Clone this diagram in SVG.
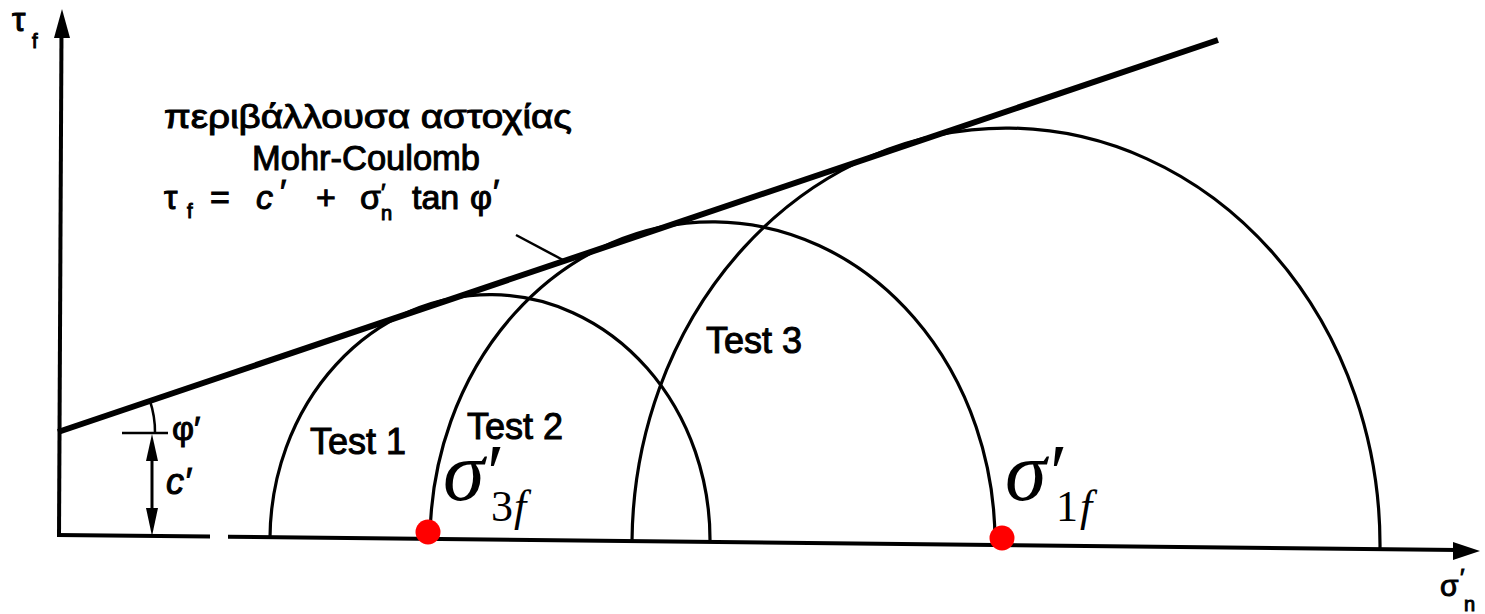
<svg xmlns="http://www.w3.org/2000/svg" width="1485" height="614" viewBox="0 0 1485 614">
<style>
.ax{stroke:#000;stroke-width:4;fill:none;stroke-linecap:butt}
.env{stroke:#000;stroke-width:6;fill:none}
.arc{stroke:#000;stroke-width:3.2;fill:none}
.thin{stroke:#000;stroke-width:2.5;fill:none}
.sans{font-family:"Liberation Sans",Arial,sans-serif;fill:#000;stroke:#000;stroke-width:1}
.serif{font-family:"Liberation Serif","Times New Roman",serif;fill:#000}
.dot{fill:#ff0000}
</style>
<rect width="1485" height="614" fill="#fff"/>
<g id="axes">
<line class="ax" x1="59" y1="536" x2="61.5" y2="30"/>
<polygon points="62,9 54,38 70,38" fill="#000"/>
<line class="ax" x1="57" y1="535" x2="210" y2="536.6"/>
<line class="ax" x1="228" y1="536.8" x2="1458" y2="550"/>
<polygon points="1480,551 1453,542 1453,560" fill="#000"/>
</g>
<g id="envelope">
<line class="env" x1="58" y1="432" x2="1218" y2="40"/>
</g>
<g id="test1"><path class="arc" d="M 270 537.5 A 219.9 245 0 0 1 710 542"/></g>
<g id="test2"><path class="arc" d="M 430 539 A 282.4 320 0 0 1 995 545"/></g>
<g id="test3"><path class="arc" d="M 632 541 A 373.9 417 0 0 1 1380 549"/></g>
<g id="connectors">
<line class="thin" x1="516" y1="235" x2="563" y2="260"/>
<line class="ax" x1="152" y1="455" x2="152" y2="512" style="stroke-width:3"/>
<polygon points="152,434 146,461 158,461" fill="#000"/>
<polygon points="152,536 146,508 158,508" fill="#000"/>
<line class="thin" x1="122" y1="433" x2="168" y2="433"/>
<path class="thin" d="M 150 401 A 97 97 0 0 1 155 433"/>
</g>
<g id="points">
<circle class="dot" cx="428" cy="532" r="12.5"/>
<circle class="dot" cx="1002" cy="538" r="12.5"/>
</g>
<g id="labels">
<text class="sans" x="12" y="31" font-size="34">τ<tspan font-size="20" x="32" y="48">f</tspan></text>
<text class="sans" x="368" y="128" font-size="34" text-anchor="middle" textLength="408" lengthAdjust="spacingAndGlyphs">περιβάλλουσα αστοχίας</text>
<text class="sans" x="366" y="170" font-size="35" text-anchor="middle" textLength="228" lengthAdjust="spacingAndGlyphs">Mohr-Coulomb</text>
<text class="sans" y="209" font-size="34"><tspan x="164">τ</tspan><tspan x="187" y="218" font-size="20">f</tspan><tspan x="210" y="209">=</tspan><tspan x="256" font-style="italic">c</tspan><tspan x="280" y="203">′</tspan><tspan x="316" y="209">+</tspan><tspan x="360">σ</tspan><tspan x="381" y="201" font-size="24">′</tspan><tspan x="381" y="220" font-size="20">n</tspan><tspan x="412" y="209">tan</tspan><tspan x="470">φ</tspan><tspan x="493" y="203">′</tspan></text>
<text class="sans" x="172" y="440" font-size="34">φ′</text>
<text class="sans" x="166" y="494" font-size="36" font-style="italic">c′</text>
<text class="sans" x="310" y="454" font-size="36">Test 1</text>
<text class="sans" x="467" y="439" font-size="36">Test 2</text>
<text class="sans" x="706" y="353" font-size="36">Test 3</text>
<text class="serif" x="443" y="500" font-size="84" font-style="italic">σ<tspan x="482" font-size="80">′</tspan><tspan x="491" y="521" font-size="44" font-style="normal">3</tspan><tspan x="514" y="521" font-size="44">f</tspan></text>
<text class="serif" x="1005" y="500" font-size="84" font-style="italic">σ<tspan x="1045" font-size="80">′</tspan><tspan x="1056" y="521" font-size="44" font-style="normal">1</tspan><tspan x="1080" y="521" font-size="44">f</tspan></text>
<text class="sans" x="1440" y="596" font-size="30">σ<tspan x="1460" y="586" font-size="24">′</tspan><tspan x="1464" y="611" font-size="20">n</tspan></text>
</g>
</svg>
